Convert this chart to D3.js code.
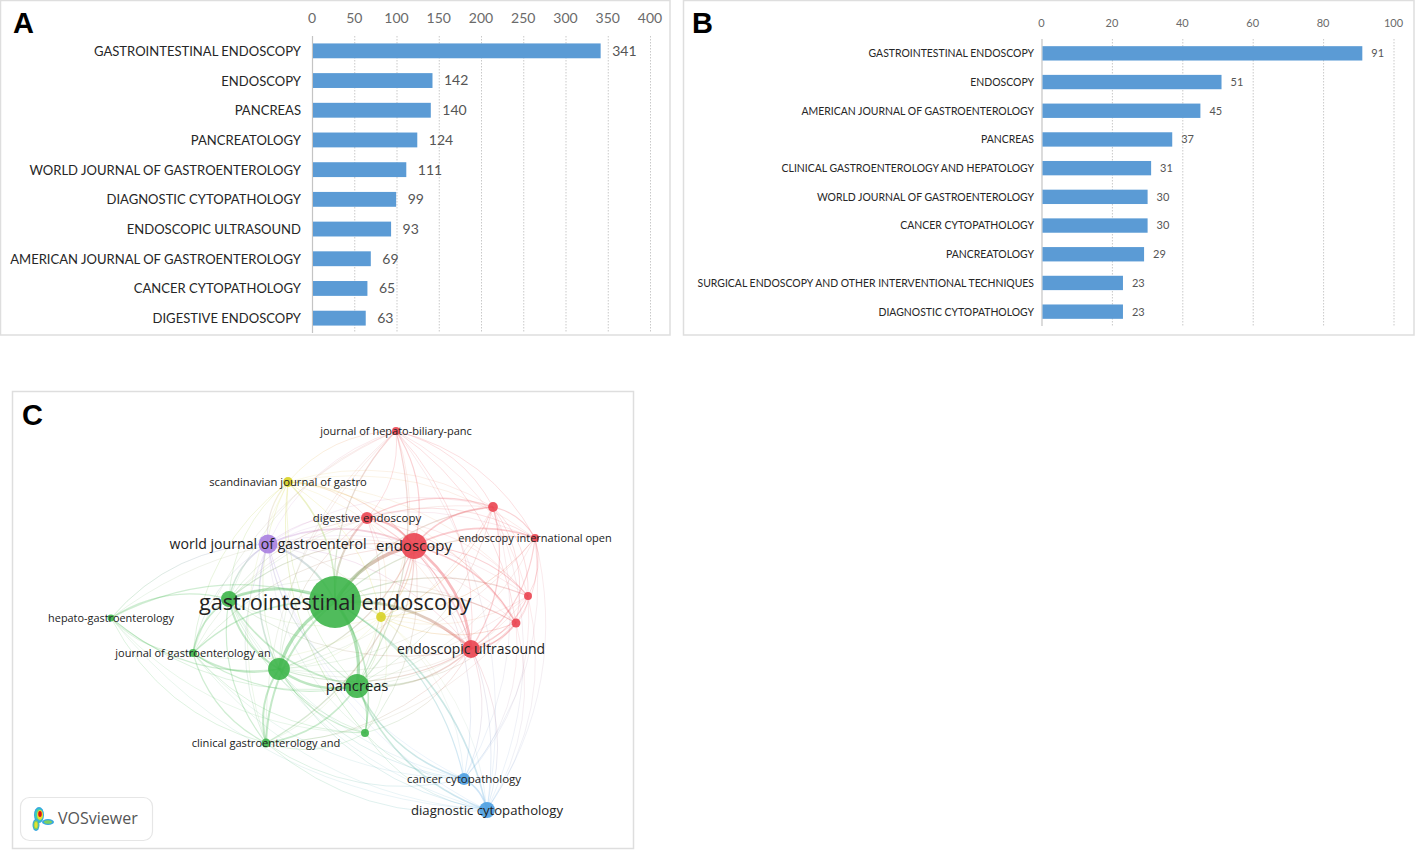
<!DOCTYPE html>
<html><head><meta charset="utf-8">
<script src="https://cdn.jsdelivr.net/npm/d3@7"></script>
<style>html,body{margin:0;padding:0;background:#fff}svg{display:block}</style>
</head><body><svg id="c" width="1417" height="851"></svg>
<script>
const catsA=["GASTROINTESTINAL ENDOSCOPY","ENDOSCOPY","PANCREAS","PANCREATOLOGY","WORLD JOURNAL OF GASTROENTEROLOGY","DIAGNOSTIC CYTOPATHOLOGY","ENDOSCOPIC ULTRASOUND","AMERICAN JOURNAL OF GASTROENTEROLOGY","CANCER CYTOPATHOLOGY","DIGESTIVE ENDOSCOPY"];
const valsA=[341,142,140,124,111,99,93,69,65,63];
const ticksA=[0,50,100,150,200,250,300,350,400];
const catsB=["GASTROINTESTINAL ENDOSCOPY","ENDOSCOPY","AMERICAN JOURNAL OF GASTROENTEROLOGY","PANCREAS","CLINICAL GASTROENTEROLOGY AND HEPATOLOGY","WORLD JOURNAL OF GASTROENTEROLOGY","CANCER CYTOPATHOLOGY","PANCREATOLOGY","SURGICAL ENDOSCOPY AND OTHER INTERVENTIONAL TECHNIQUES","DIAGNOSTIC CYTOPATHOLOGY"];
const valsB=[91,51,45,37,31,30,30,29,23,23];
const ticksB=[0,20,40,60,80,100];
// VOSviewer map
const nodeLabels=["gastrointestinal endoscopy","endoscopy","pancreas","world journal of gastroenterol","endoscopic ultrasound","","","digestive endoscopy","journal of hepato-biliary-panc","scandinavian journal of gastro","","endoscopy international open","","","","hepato-gastroenterology","journal of gastroenterology an","clinical gastroenterology and","","cancer cytopathology","diagnostic cytopathology"];
const nodeMapX=[323,402,345,256,459,267,217,355,384,276,481,523,516,504,369,99,181,254,353,452,475];
const nodeMapY=[211,155,295,153,258,278,208,127,40,91,116,147,205,232,226,227,262,352,342,388,419];
const nodeWeights=[341,85,72,45,40,60,32,18,8,12,12,8,8,10,12,6,8,10,8,18,32];
const nodeClusters=["g","r","g","p","r","g","g","r","r","y","r","r","r","r","y","g","g","g","g","b","b"];
const linkSource=[0,0,0,0,0,0,0,0,0,0,0,0,0,0,0,0,0,0,0,0, 1,1,1,1,1,1,1,1,1,1,1,1,1,1,1,1,1,1, 2,2,2,2,2,2,2,2,2,2,2,2,2,2,2,2, 3,3,3,3,3,3,3,3, 4,4,4,4,4,4,4,4,4,4,4,4,4, 5,5,5,5,5,5,5,5,5, 6,6,6,6,6,6, 7,7,7,7,7, 8,8,8,8, 9,9, 10,10,10, 11,11, 12, 15,15, 16,16, 17,17,17, 18,18, 19];
const linkTarget=[1,2,3,4,5,6,7,8,9,10,11,12,13,14,15,16,17,18,19,20, 2,3,4,5,6,7,8,9,10,11,12,13,14,16,17,18,19,20, 3,4,5,6,7,8,9,14,15,16,17,18,19,20,10,13, 4,5,6,7,9,14,16,17, 5,6,7,8,10,11,12,13,14,17,18,19,20, 6,7,9,15,16,17,18,19,20, 15,16,17,18,9,7, 8,9,10,11,13, 9,10,11,13, 14,16, 11,12,13, 12,13, 13, 16,17, 17,18, 18,19,20, 19,20, 20];
const linkWeights=[8,7,4,6,7,6,4,2,3,2,2,2,2,3,2,3,4,3,2,3, 2,3,6,2,2,4,2,2,3,3,2,3,2,1,2,1,1,1, 2,3,5,3,1,2,1,1,1,2,3,3,3,3,1,1, 1,3,3,1,2,1,1,1, 2,1,2,1,2,2,2,3,1,1,1,1,1, 4,1,1,2,3,4,2,1,1, 2,3,2,1,1,1, 1,1,2,1,1, 1,1,1,1, 1,1, 2,1,1, 1,1, 1, 1,1, 2,1, 1,1,1, 1,1, 3];
const faintSource=[9,9,9,9,9,9,9, 14,14,14,14,14,14,14,14,14,14,14,14,14, 8,8,8,8,8,8,8, 10,10,10,10,10,10, 11,11,11,11,11,11, 12,12,12,12,12,12, 13,13,13,13,13,13,13, 3,3,3,3, 6,6, 15,15,15,15, 16,16,16, 18];
const faintTarget=[4,10,11,13,12,17,18, 5,6,7,8,10,11,12,13,17,18,19,20,16, 3,5,6,12,16,17,20, 3,5,6,14,19,20, 3,5,14,19,20,2, 2,3,5,7,19,20, 3,5,6,14,17,19,20, 15,18,19,20, 19,20, 18,20,1,3, 19,20,7, 9];

const svg=d3.select("#c");
const frame=(x,y,w,h)=>svg.append("rect").attr("x",x).attr("y",y).attr("width",w).attr("height",h).attr("fill","#fff").attr("stroke","#dedede").attr("stroke-width",1.5);
frame(0.5,0.5,669.5,334.5);frame(683.5,0.5,730.5,334.5);frame(12.5,391.5,621,457);

function panel(o){
  const x=d3.scaleLinear().domain(o.domain).range(o.xr);
  const y=d3.scaleBand().domain(o.cats).range(o.yr).paddingInner(o.pad).paddingOuter(o.pad/2);
  const g=svg.append("g");
  const ax=g.append("g").attr("transform",`translate(0,${o.yr[0]})`).call(d3.axisTop(x).tickValues(o.ticks).tickSize(0).tickPadding(o.yr[0]-o.tickY));
  ax.select(".domain").remove();
  ax.selectAll("text").attr("font-family","Lato").attr("font-size",o.tickFs).attr("fill","#6a6a6a").attr("dx",o.tickDx);
  g.selectAll("line.g").data(o.ticks.slice(1)).join("line").attr("x1",x).attr("x2",x).attr("y1",o.yr[0]).attr("y2",o.yr[1])
    .attr("stroke","#c9c9c9").attr("stroke-width",1).attr("stroke-dasharray","1.5,1.5");
  g.append("line").attr("x1",x(0)).attr("x2",x(0)).attr("y1",o.yr[0]).attr("y2",o.yr[1]).attr("stroke","#c4c4c4").attr("stroke-width",1.2);
  g.selectAll("rect").data(o.vals).join("rect").attr("x",x(0)+.5).attr("y",(d,i)=>y(o.cats[i])).attr("width",d=>x(d)-x(0)-.5).attr("height",y.bandwidth()).attr("fill","#5b9bd5");
  g.selectAll("text.c").data(o.cats).join("text")
    .attr("transform",d=>`translate(${x(0)-o.gap},${y(d)+y.bandwidth()/2}) scale(${o.sx},1)`).attr("dy","0.35em").attr("text-anchor","end")
    .attr("font-family","Lato").attr("font-size",o.fs).attr("fill","#262626").text(d=>d);
  g.selectAll("text.v").data(o.vals).join("text").attr("x",d=>x(d)+o.vgap).attr("y",(d,i)=>y(o.cats[i])+y.bandwidth()/2).attr("dy","0.35em")
    .attr("font-family","Lato").attr("font-size",o.vfs).attr("fill","#555").text(d=>d);
}
panel({cats:catsA,vals:valsA,ticks:ticksA,domain:[0,400],xr:[312.5,650.5],yr:[36,333],pad:.5,tickY:23,tickFs:14,tickDx:-1,fs:14.2,sx:.92,vfs:14,gap:11.5,vgap:11.5});
panel({cats:catsB,vals:valsB,ticks:ticksB,domain:[0,100],xr:[1042,1394],yr:[39,326],pad:.5,tickY:27,tickFs:11,tickDx:-1,fs:11.1,sx:.94,vfs:11,gap:8,vgap:9});

const letter=(t,x,y)=>svg.append("text").attr("x",x).attr("y",y).attr("font-family","Liberation Sans").attr("font-weight","bold").attr("font-size",29).attr("fill","#000").text(t);
letter("A",13,33);letter("B",692,33);letter("C",22,425);

// network
const colors={g:"#3db54a",r:"#ea4450",b:"#4b9fe1",y:"#d8d226",p:"#a97fe0"};
const mx=d3.scaleLinear().domain([0,622]).range([12,634]);
const my=d3.scaleLinear().domain([0,458]).range([391,849]);
const rad=d3.scaleSqrt().domain([0,341]).range([0,26]);
const lw=d3.scaleLinear().domain([.5,8]).range([.6,3.6]);
const lo=d3.scaleLinear().domain([.5,8]).range([.2,.42]);
const fsz=d3.scaleLinear().domain([3.5,6,9,13,26]).range([10.9,11.5,14,15,21.7]);
const nodes=nodeLabels.map((l,i)=>({l,x:mx(nodeMapX[i]),y:my(nodeMapY[i]),r:rad(nodeWeights[i]),c:colors[nodeClusters[i]]}));
const cx=mx(323),cy=my(219);
const defs=svg.append("defs");
const links=linkSource.map((s,i)=>({s:nodes[s],t:nodes[linkTarget[i]],w:linkWeights[i]}))
  .concat(faintSource.map((s,i)=>({s:nodes[s],t:nodes[faintTarget[i]],w:.5})));
links.forEach((L,i)=>L.i=i);
links.sort((a,b)=>a.w-b.w);
const lg=svg.append("g").attr("fill","none");
links.forEach(L=>{
  const id="lg"+L.i;
  const gr=defs.append("linearGradient").attr("id",id).attr("gradientUnits","userSpaceOnUse").attr("x1",L.s.x).attr("y1",L.s.y).attr("x2",L.t.x).attr("y2",L.t.y);
  gr.append("stop").attr("offset","0%").attr("stop-color",L.s.c);
  gr.append("stop").attr("offset","100%").attr("stop-color",L.t.c);
  const dx=L.t.x-L.s.x,dy=L.t.y-L.s.y,mxp=(L.s.x+L.t.x)/2,myp=(L.s.y+L.t.y)/2;
  let nx=-dy,ny=dx;
  if(nx*(mxp-cx)+ny*(myp-cy)<0){nx=-nx;ny=-ny}
  const k=.22;
  const p=d3.path();p.moveTo(L.s.x,L.s.y);p.quadraticCurveTo(mxp+nx*k,myp+ny*k,L.t.x,L.t.y);
  lg.append("path").attr("d",p.toString()).attr("stroke",`url(#${id})`).attr("stroke-width",lw(L.w)).attr("stroke-opacity",lo(L.w));
});
svg.append("g").selectAll("circle").data(nodes).join("circle").attr("cx",d=>d.x).attr("cy",d=>d.y).attr("r",d=>d.r).attr("fill",d=>d.c).attr("fill-opacity",.9);
svg.append("g").selectAll("text").data(nodes.filter(d=>d.l)).join("text").attr("x",d=>d.x).attr("y",d=>d.y).attr("dy","0.35em").attr("text-anchor","middle")
  .attr("font-family","Open Sans").attr("font-size",d=>fsz(d.r)).attr("fill","#222").text(d=>d.l);

// VOSviewer badge
const b=svg.append("g");
b.append("rect").attr("x",20.5).attr("y",797.5).attr("width",132).attr("height",43).attr("rx",9).attr("fill","#fff").attr("stroke","#e6e6e6").attr("stroke-width",1.2);
[[["#35a7e0",5,8,39,815],["#3fd0b0",4,6.5,39,815],["#e8e030",3,5,40,815],["#e01010",1.8,3,40,814]],
 [["#35a7e0",3.5,6,36,825],["#7fd060",2.5,4.5,36,825],["#e8e030",1.5,3,36,825]],
 [["#35a7e0",6,3,48,822],["#7fd060",4,1.8,48,822]]].forEach(s=>s.forEach(e=>b.append("ellipse").attr("cx",e[3]).attr("cy",e[4]).attr("rx",e[1]).attr("ry",e[2]).attr("fill",e[0])));
b.append("text").attr("x",58).attr("y",824).attr("font-family","Open Sans").attr("font-size",16).attr("fill","#555").text("VOSviewer");
</script></body></html>
